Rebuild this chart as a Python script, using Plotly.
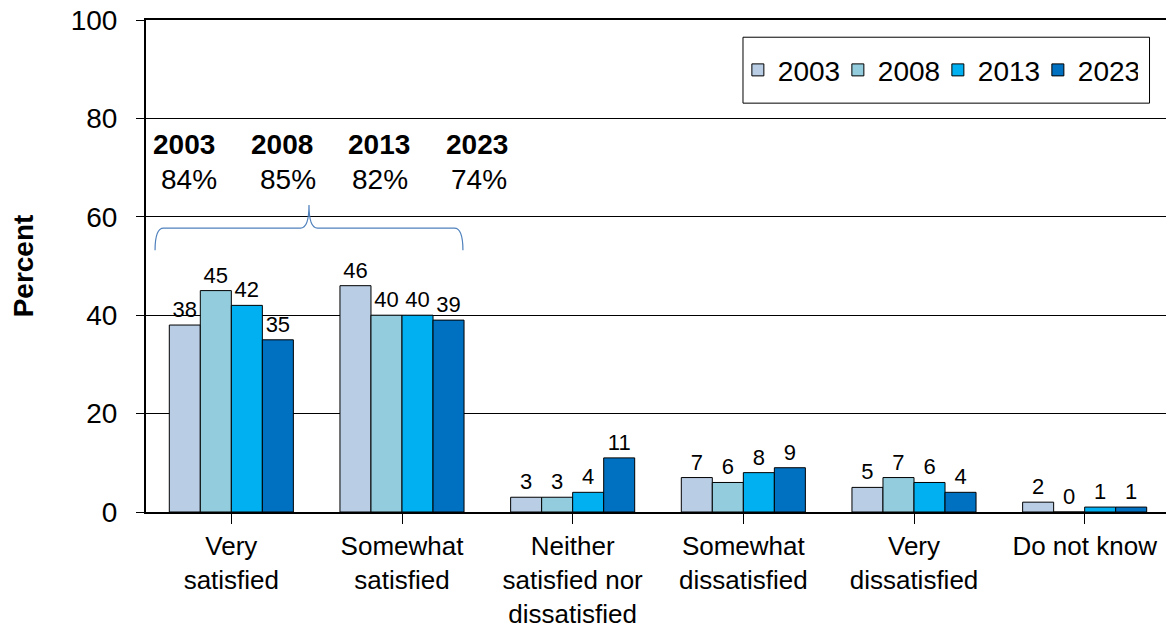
import plotly.graph_objects as go

categories = ["Very<br>satisfied", "Somewhat<br>satisfied", "Neither<br>satisfied nor<br>dissatisfied",
              "Somewhat<br>dissatisfied", "Very<br>dissatisfied", "Do not know"]
years = ["2003", "2008", "2013", "2023"]
values = {
    "2003": [38, 46, 3, 7, 5, 2],
    "2008": [45, 40, 3, 6, 7, 0],
    "2013": [42, 40, 4, 8, 6, 1],
    "2023": [35, 39, 11, 9, 4, 1],
}
colors = {"2003": "#B9CDE5", "2008": "#93CDDD", "2013": "#00B0F0", "2023": "#0070C0"}
satisfied_totals = ["84%", "85%", "82%", "74%"]

font = "Arial, Liberation Sans, sans-serif"
fig = go.Figure()
for y in years:
    fig.add_trace(go.Bar(
        x=list(range(len(categories))), y=values[y], name=y,
        marker=dict(color=colors[y], line=dict(color="black", width=1)),
        text=[str(v) for v in values[y]], textposition="outside",
        textfont=dict(size=22, color="black", family=font), cliponaxis=False,
    ))

# annotations for combined satisfied
year_x = [-0.277, 0.297, 0.865, 1.439]
pct_x = [-0.248, 0.332, 0.871, 1.451]
for i, y in enumerate(years):
    fig.add_annotation(x=year_x[i], y=74.6, text="<b>" + y + "</b>", showarrow=False,
                       font=dict(size=28, family=font, color="black"))
    fig.add_annotation(x=pct_x[i], y=67.5, text=satisfied_totals[i], showarrow=False,
                       font=dict(size=28, family=font, color="black"))

# curly bracket
xl, xr = -0.447, 1.357
xm = (xl + xr) / 2
yb, yh, yt = 53.2, 57.7, 62.4
d = 0.05
path = (f"M {xl},{yb} Q {xl},{yh} {xl + d},{yh} L {xm - d},{yh} Q {xm},{yh} {xm},{yt} "
        f"Q {xm},{yh} {xm + d},{yh} L {xr - d},{yh} Q {xr},{yh} {xr},{yb}")
fig.add_shape(type="path", path=path, xref="x", yref="y", line=dict(color="#4F81BD", width=1.2))

# legend frame
fig.add_shape(type="rect", xref="paper", yref="paper", x0=0.583, x1=0.980, y0=0.831, y1=0.965,
              line=dict(color="black", width=1), fillcolor="white", layer="below")

fig.update_layout(
    width=1166, height=620,
    margin=dict(l=138, r=4, t=12, b=116),
    paper_bgcolor="white", plot_bgcolor="rgba(0,0,0,0)",
    barmode="group", bargap=0.273, bargroupgap=0,
    font=dict(family=font, color="black"),
    legend=dict(orientation="h", x=0.578, xanchor="left", y=0.898, yanchor="middle",
                borderwidth=0, bgcolor="rgba(0,0,0,0)",
                font=dict(size=28, family=font), itemwidth=30, tracegroupgap=0,
                entrywidth=55, entrywidthmode="pixels"),
    showlegend=True,
)
fig.update_xaxes(
    tickmode="array", tickvals=list(range(len(categories))), ticktext=categories,
    range=[-0.5, len(categories) - 0.5], automargin=False,
    showline=True, linecolor="black", linewidth=2, mirror=True,
    ticks="outside", tickson="boundaries", ticklen=10, tickcolor="black",
    tickfont=dict(size=26, family=font), showgrid=False,
)
fig.update_yaxes(
    range=[0, 100], dtick=20, showgrid=True, gridcolor="black", gridwidth=1,
    showline=True, linecolor="black", linewidth=2, mirror=True, automargin=False,
    ticks="outside", ticklen=8, tickcolor="black", ticklabelstandoff=13,
    ticklabeloverflow="allow",
    tickfont=dict(size=28, family=font), zeroline=False,
    title=dict(text="<b>Percent</b>", font=dict(size=28, family=font), standoff=44),
)
fig.write_html("out.html")
